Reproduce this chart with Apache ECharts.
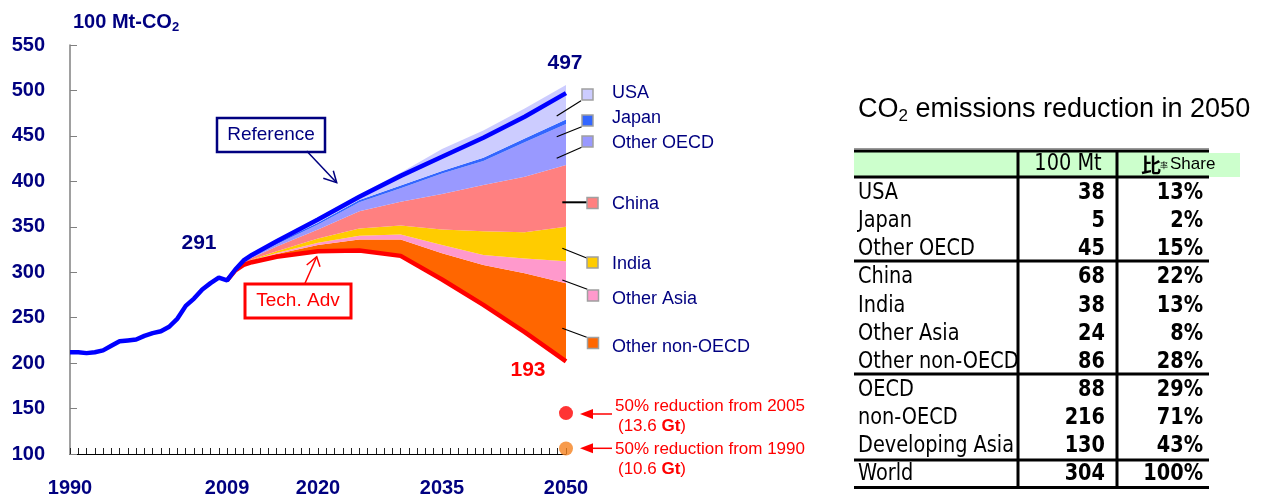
<!DOCTYPE html>
<html>
<head>
<meta charset="utf-8">
<script src="https://cdn.jsdelivr.net/npm/echarts@6/dist/echarts.min.js"></script>
<style>
html, body { margin: 0; padding: 0; background: #fff; }
#main { width: 1263px; height: 500px; }
</style>
</head>
<body>
<div id="main"></div>
<script>
// Reference line (history + projection)
var refYears = [1990, 1991, 1992, 1993, 1994, 1995, 1996, 1997, 1998, 1999, 2000, 2001, 2002, 2003, 2004, 2005, 2006, 2007, 2008, 2009, 2010, 2011, 2012, 2015, 2020, 2025, 2030, 2035, 2040, 2045, 2050];
var refValues = [212, 212, 211, 212, 214, 219, 224, 225, 226, 230, 233, 235, 240, 249, 263, 271, 281, 288, 294, 291, 303, 313, 319, 334, 358, 383, 406, 427, 448, 471, 497];

// Tech. Adv line and the reduction layers stacked on it
var stackYears = [2009, 2010, 2011, 2012, 2015, 2020, 2025, 2030, 2035, 2040, 2045, 2050];
var techValues = [291, 302, 308, 311, 317, 323, 324, 318, 292, 264, 234, 202];
var usaCut = [0, 0.05, 0.7, 1.3, 2.5, 4, 6, 14, 24, 30, 33, 38];
var japanCut = [0, 0.05, 0.3, 0.6, 1.5, 2, 2.5, 3, 3, 3.5, 4, 5];
var otherOecdCut = [0, 0.2, 0.9, 1.2, 2.6, 5.5, 10, 15, 22.5, 26.5, 38, 45];
var chinaCut = [0, 0.3, 1.2, 2, 5, 10, 19, 26, 39, 51, 61, 68];
var indiaCut = [0, 0.1, 0.5, 0.8, 2, 4.5, 8, 10, 17, 26, 29, 38];
var otherAsiaCut = [0, 0.1, 0.4, 0.6, 1.2, 2.5, 4, 5.5, 9, 11, 16, 24];
var otherNonOecdCut = [0, 0.2, 1, 1.5, 3, 7, 12, 18, 29, 44, 65, 86];

var regions = ['USA', 'Japan', 'Other OECD', 'China', 'India', 'Other Asia', 'Other non-OECD'];
var regionColors = ['#CCCCFF', '#3366FF', '#9999FF', '#FF8080', '#FFCC00', '#FF99CC', '#FF6600'];
var regionLayers = [usaCut, japanCut, otherOecdCut, chinaCut, indiaCut, otherAsiaCut, otherNonOecdCut];

// 2050 targets
var targetYear = 2050;
var target2005 = 145;
var target1990 = 106;

var xLabelYears = [1990, 2009, 2020, 2035, 2050];

// table on the right
var tableNames = ['USA', 'Japan', 'Other OECD', 'China', 'India', 'Other Asia', 'Other non-OECD', 'OECD', 'non-OECD', 'Developing Asia', 'World'];
var tableMt = [38, 5, 45, 68, 38, 24, 86, 88, 216, 130, 304];
var tableShare = ['13%', '2%', '15%', '22%', '13%', '8%', '28%', '29%', '71%', '43%', '100%'];

// [value, year] so that the stack is summed on the value column (encode maps it back)
function pairs(xs, ys) {
	return xs.map(function (x, i) { return [ys[i], x]; });
}

var NAVY = '#000080';
var ARIAL = 'Liberation Sans, Arial, sans-serif';
var TBL = 'DejaVu Sans, sans-serif';
var ENC = { x: 1, y: 0 };

var series = [];
// base of the stack: Tech. Adv
series.push({
	name: 'Tech. Adv',
	type: 'line',
	stack: 'total',
	data: pairs(stackYears, techValues),
	encode: ENC,
	symbol: 'none',
	lineStyle: { color: '#FF0000', width: 4.5 },
	z: 4,
	clip: false
});
// layers from bottom (Other non-OECD) to top (USA)
for (var i = regions.length - 1; i >= 0; i--) {
	series.push({
		name: regions[i],
		type: 'line',
		stack: 'total',
		data: pairs(stackYears, regionLayers[i]),
		encode: ENC,
		symbol: 'none',
		lineStyle: { width: 0 },
		areaStyle: { color: regionColors[i], opacity: 1 },
		z: 2
	});
}
series.push({
	name: 'Reference',
	type: 'line',
	data: pairs(refYears, refValues),
	encode: ENC,
	symbol: 'none',
	lineStyle: { color: '#0000FF', width: 4.5 },
	z: 5,
	clip: false
});
series.push({
	type: 'scatter',
	data: [
		{ value: [targetYear, target2005], itemStyle: { color: '#FF0000' } },
		{ value: [targetYear, target1990], itemStyle: { color: '#F5821F' } }
	],
	symbolSize: 14,
	clip: false,
	z: 6
});

// graphics: annotations, legend, table
var g = [];
function txt(x, y, text, opt) {
	var st = {
		text: text, fill: opt.fill || '#000',
		fontSize: opt.size || 16, fontFamily: opt.family || ARIAL, fontWeight: opt.weight || 'normal',
		align: opt.align || 'left', verticalAlign: 'middle',
		textAlign: opt.align || 'left', textVerticalAlign: 'middle'
	};
	if (opt.rich) st.rich = opt.rich;
	g.push({ type: 'text', x: x, y: y, scaleX: opt.scaleX || 1, z: opt.z || 10, style: st });
}
function line(pts, color, w, z) {
	g.push({ type: 'polyline', shape: { points: pts }, style: { stroke: color, lineWidth: w, fill: null }, z: z || 10 });
}

// axis name
txt(73, 22, '{a|100 Mt-CO}{s|2}', {
	fill: NAVY, size: 20, weight: 'bold',
	rich: { a: { fontSize: 20, fontWeight: 'bold', fill: NAVY, fontFamily: ARIAL }, s: { fontSize: 13, fontWeight: 'bold', fill: NAVY, fontFamily: ARIAL, padding: [10, 0, 0, 0] } }
});

// value labels
txt(199, 243, '291', { fill: NAVY, size: 21, weight: 'bold', align: 'center' });
txt(565, 63, '497', { fill: NAVY, size: 21, weight: 'bold', align: 'center' });
txt(528, 370, '193', { fill: '#FF0000', size: 21, weight: 'bold', align: 'center' });

// Reference box + arrow
g.push({ type: 'rect', shape: { x: 217, y: 118, width: 108, height: 34 }, style: { fill: '#fff', stroke: NAVY, lineWidth: 2.5 }, z: 10 });
txt(271, 135, 'Reference', { fill: NAVY, size: 19, align: 'center', z: 11 });
line([[306.7, 151], [336.7, 182.7]], NAVY, 1.5);
line([[323.3, 178.3], [336.7, 182.7], [333.3, 170.7]], NAVY, 1.5);

// Tech. Adv box + arrow
g.push({ type: 'rect', shape: { x: 245, y: 284, width: 106, height: 34 }, style: { fill: '#fff', stroke: '#FF0000', lineWidth: 3 }, z: 10 });
txt(298, 301, 'Tech. Adv', { fill: '#FF0000', size: 19, align: 'center', z: 11 });
line([[305, 283.3], [316.7, 256.7]], '#FF0000', 1.5);
line([[306.7, 265], [316.7, 256.7], [320, 266.7]], '#FF0000', 1.5);

// legend squares, leaders and labels (top to bottom)
var legSq = [[582, 89], [582, 115], [582, 136], [587, 197.5], [587, 257], [587.5, 290], [587.5, 337.5]];
var legTextY = [92.7, 117.7, 142.7, 204, 264, 299.3, 346.7];
var leaders = [
	[[556.7, 116], [581, 100.7]],
	[[556.7, 136.7], [581.7, 126.7]],
	[[556.7, 158.3], [581.7, 147.3]],
	[[562.3, 202.3], [587.3, 202.3]],
	[[562.3, 248.3], [587.3, 258.3]],
	[[562.3, 280], [587.3, 289.3]],
	[[562.3, 328.3], [586.7, 337.3]]
];
for (var k = 0; k < regions.length; k++) {
	line(leaders[k], '#000', k === 3 ? 2 : 1.2);
	g.push({ type: 'rect', shape: { x: legSq[k][0], y: legSq[k][1], width: 11, height: 11 }, style: { fill: regionColors[k], stroke: '#A0A0A0', lineWidth: 1.5 }, z: 10 });
	txt(612, legTextY[k], regions[k], { fill: NAVY, size: 18 });
}

// target arrows and notes
[[414, 406.7, '50% reduction from 2005', '13.6'], [448.3, 449, '50% reduction from 1990', '10.6']].forEach(function (t) {
	line([[590, t[0]], [612, t[0]]], '#FF0000', 1.5);
	g.push({ type: 'polygon', shape: { points: [[580, t[0]], [593, t[0] - 5], [593, t[0] + 5]] }, style: { fill: '#FF0000' }, z: 10 });
	txt(615, t[1], t[2], { fill: '#FF0000', size: 17 });
	txt(618, t[1] + 20, '{n|(' + t[3] + ' }{b|Gt}{n|)}', {
		fill: '#FF0000', size: 17,
		rich: { n: { fontSize: 17, fill: '#FF0000', fontFamily: ARIAL }, b: { fontSize: 17, fill: '#FF0000', fontFamily: ARIAL, fontWeight: 'bold' } }
	});
});

// right title
txt(858, 110, '{a|CO}{s|2}{a| emissions reduction in 2050}', {
	size: 27,
	rich: { a: { fontSize: 27, fill: '#000', fontFamily: ARIAL }, s: { fontSize: 17, fill: '#000', fontFamily: ARIAL, padding: [12, 0, 0, 0] } }
});

// table
var tL = 854, tR = 1209, c1 = 1018, c2 = 1117;
g.push({ type: 'rect', shape: { x: tL, y: 151, width: tR - tL, height: 26 }, style: { fill: '#CCFFCC' }, z: 5 });
g.push({ type: 'rect', shape: { x: c2, y: 153, width: 1240 - c2, height: 24 }, style: { fill: '#CCFFCC' }, z: 5 });
line([[tL, 148.5], [tR, 148.5]], '#999', 1, 6);
var rowY = function (r) { return 193.3 + r * 28.07; };
for (var r = 0; r < tableNames.length; r++) {
	txt(858, rowY(r), tableNames[r], { size: 23, family: TBL, scaleX: 0.84, z: 7 });
	txt(1105, rowY(r), String(tableMt[r]), { size: 23, family: TBL, weight: 'bold', align: 'right', scaleX: 0.84, z: 9 });
	txt(1203, rowY(r), tableShare[r], { size: 23, family: TBL, weight: 'bold', align: 'right', scaleX: 0.84, z: 9 });
}
// mask overflow of long names
g.push({ type: 'rect', shape: { x: c1, y: 178, width: c2 - c1, height: 309 }, style: { fill: '#fff' }, z: 8 });
txt(1068, 164, '100 Mt', { size: 23, family: TBL, align: 'center', scaleX: 0.84, z: 9 });
txt(1141, 165, '比', { size: 20, family: 'Noto Sans CJK JP', weight: 'bold', z: 9 });
txt(1160, 165, '率', { size: 8, family: 'Noto Sans CJK JP', z: 9 });
txt(1170, 164, 'Share', { size: 17, family: ARIAL, z: 9 });
[151, 177, 261, 374, 460, 487.5].forEach(function (yy) {
	line([[tL, yy], [tR, yy]], '#000', 3, 12);
});
line([[c1, 151], [c1, 487.5]], '#000', 3, 12);
line([[c2, 151], [c2, 487.5]], '#000', 3, 12);

var myChart = echarts.init(document.getElementById('main'));
var option = {
	backgroundColor: '#fff',
	animation: false,
	grid: { left: 70, right: 697, top: 45, bottom: 46, outerBoundsMode: 'none' },
	xAxis: {
		type: 'value',
		min: 1990,
		max: 2050,
		interval: 1,
		splitLine: { show: false },
		axisLine: { lineStyle: { color: '#000', width: 1 } },
		axisTick: { inside: true, length: 6, lineStyle: { color: '#222' } },
		axisLabel: {
			margin: 24,
			color: NAVY,
			fontSize: 20,
			fontWeight: 'bold',
			fontFamily: ARIAL,
			formatter: function (v) { return xLabelYears.indexOf(v) >= 0 ? String(v) : ''; }
		}
	},
	yAxis: {
		type: 'value',
		min: 100,
		max: 550,
		interval: 50,
		splitLine: { show: false },
		axisLine: { show: true, lineStyle: { color: '#808080', width: 1.5 } },
		axisTick: { show: true, inside: true, length: 7, lineStyle: { color: '#808080' } },
		axisLabel: { margin: 25, color: NAVY, fontSize: 20, fontWeight: 'bold', fontFamily: ARIAL }
	},
	series: series,
	graphic: g
};
myChart.setOption(option);
</script>
</body>
</html>
